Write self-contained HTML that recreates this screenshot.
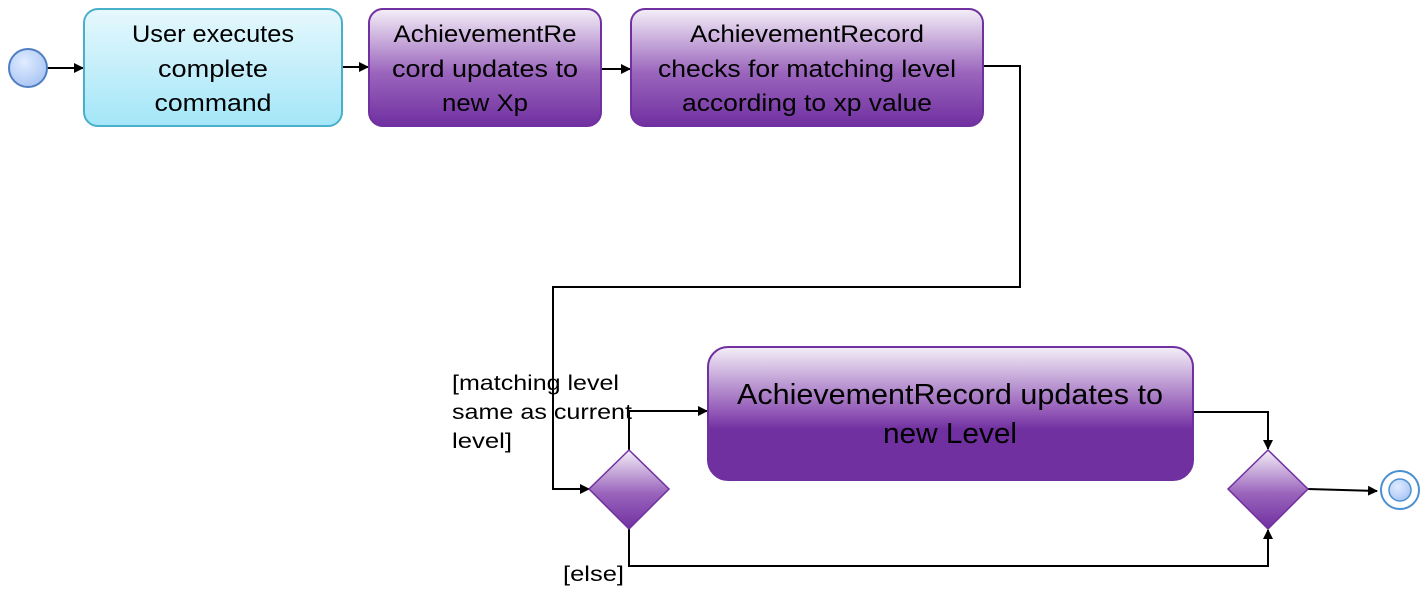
<!DOCTYPE html>
<html><head><meta charset="utf-8"><style>html,body{margin:0;padding:0;background:#fff}svg{display:block}</style></head>
<body>
<svg width="1427" height="600" viewBox="0 0 1427 600" xmlns="http://www.w3.org/2000/svg" font-family="'Liberation Sans', sans-serif">
<defs>
<linearGradient id="cy" x1="0" y1="0" x2="0" y2="1"><stop offset="0" stop-color="#e6f8fd"/><stop offset="1" stop-color="#a3e6f8"/></linearGradient>
<linearGradient id="pu" x1="0" y1="0" x2="0" y2="1"><stop offset="0" stop-color="#f4eff8"/><stop offset="0.55" stop-color="#9a64bc"/><stop offset="1" stop-color="#7030a0"/></linearGradient>
<linearGradient id="pu2" x1="0" y1="0" x2="0" y2="1"><stop offset="0" stop-color="#f4eff8"/><stop offset="0.5" stop-color="#9055b5"/><stop offset="0.62" stop-color="#7030a0"/><stop offset="1" stop-color="#7030a0"/></linearGradient>
<radialGradient id="bl" cx="0.4" cy="0.35" r="0.7"><stop offset="0" stop-color="#e0ecff"/><stop offset="1" stop-color="#a8c4f4"/></radialGradient>
<marker id="a" markerWidth="10" markerHeight="10" refX="9" refY="5" orient="auto" markerUnits="userSpaceOnUse"><path d="M0,0 L10,5 L0,10 z" fill="#000"/></marker>
</defs>
<g stroke="#000" stroke-width="2" fill="none">
<line x1="47" y1="68" x2="83" y2="68" marker-end="url(#a)"/>
<line x1="342" y1="67" x2="368" y2="67" marker-end="url(#a)"/>
<line x1="601" y1="69" x2="630" y2="69" marker-end="url(#a)"/>
<polyline points="983,66 1020,66 1020,287 553,287 553,489 589,489" marker-end="url(#a)"/>
<polyline points="629,450 629,411 707,411" marker-end="url(#a)"/>
<polyline points="1193,412 1268,412 1268,449" marker-end="url(#a)"/>
<polyline points="629,529 629,566 1268,566 1268,530" marker-end="url(#a)"/>
<line x1="1308" y1="489" x2="1377" y2="491" marker-end="url(#a)"/>
</g>
<circle cx="28" cy="68" r="19" fill="url(#bl)" stroke="#4f7fc0" stroke-width="2"/>
<rect x="84" y="9" width="258" height="117" rx="14" fill="url(#cy)" stroke="#4aafc8" stroke-width="2"/>
<rect x="369" y="9" width="232" height="117" rx="14" fill="url(#pu)" stroke="#7030a0" stroke-width="2"/>
<rect x="631" y="9" width="352" height="117" rx="14" fill="url(#pu)" stroke="#7030a0" stroke-width="2"/>
<rect x="708" y="347" width="485" height="133" rx="20" fill="url(#pu2)" stroke="#7030a0" stroke-width="2"/>
<polygon points="629,450 669,489 629,529 589,489" fill="url(#pu)" stroke="#7030a0" stroke-width="1.5"/>
<polygon points="1268,450 1308,489 1268,529 1228,489" fill="url(#pu)" stroke="#7030a0" stroke-width="1.5"/>
<circle cx="1400" cy="490" r="19" fill="#fff" stroke="#4a90d0" stroke-width="2"/>
<circle cx="1400" cy="490" r="11" fill="url(#bl)" stroke="#4a90d0" stroke-width="1.5"/>
<g font-size="24" fill="#000" text-anchor="middle">
<text x="213" y="42" textLength="162" lengthAdjust="spacingAndGlyphs">User executes</text>
<text x="213" y="77" textLength="110" lengthAdjust="spacingAndGlyphs">complete</text>
<text x="213" y="111" textLength="117" lengthAdjust="spacingAndGlyphs">command</text>
<text x="485" y="42" textLength="183" lengthAdjust="spacingAndGlyphs">AchievementRe</text>
<text x="485" y="77" textLength="186" lengthAdjust="spacingAndGlyphs">cord updates to</text>
<text x="485" y="111" textLength="86" lengthAdjust="spacingAndGlyphs">new Xp</text>
<text x="807" y="42" textLength="234" lengthAdjust="spacingAndGlyphs">AchievementRecord</text>
<text x="807" y="77" textLength="298" lengthAdjust="spacingAndGlyphs">checks for matching level</text>
<text x="807" y="111" textLength="250" lengthAdjust="spacingAndGlyphs">according to xp value</text>
<text x="950" y="404" font-size="29" textLength="426" lengthAdjust="spacingAndGlyphs">AchievementRecord  updates to</text>
<text x="950" y="443" font-size="29" textLength="134" lengthAdjust="spacingAndGlyphs">new Level</text>
</g>
<g font-size="21" fill="#000">
<text x="452" y="390" textLength="167" lengthAdjust="spacingAndGlyphs">[matching level</text>
<text x="452" y="419" textLength="180" lengthAdjust="spacingAndGlyphs">same as current</text>
<text x="452" y="448" textLength="60" lengthAdjust="spacingAndGlyphs">level]</text>
<text x="563" y="581" textLength="61" lengthAdjust="spacingAndGlyphs">[else]</text>
</g>
</svg>
</body></html>
